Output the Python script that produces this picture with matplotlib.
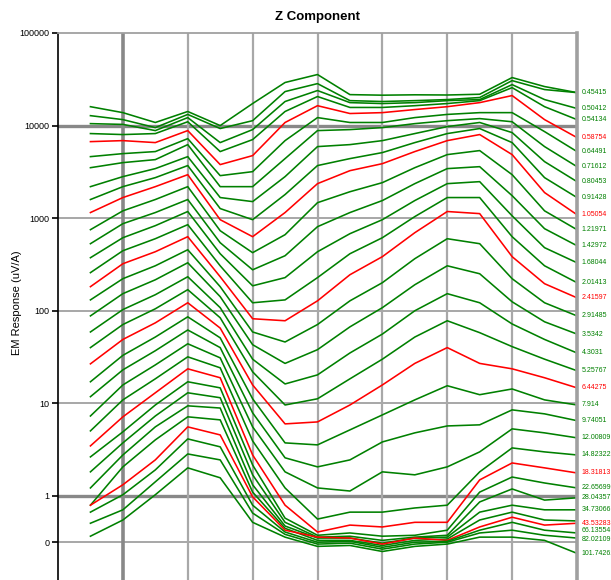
import numpy as np
import matplotlib
matplotlib.use("Agg")
import matplotlib.pyplot as plt

plt.rcParams['font.family'] = ['Liberation Sans', 'DejaVu Sans']

# station index along the profile
stations = list(range(16))

# EM response (uV/A) per time gate
ch_0_41 = [16000, 13800, 10800, 14200, 10000, 17300, 29200, 35600, 21600, 21300, 21500, 21400, 21800, 33000, 26400, 22700]
ch_0_45415 = [12800, 11600, 9510, 13200, 9290, 11300, 23300, 28400, 18600, 18200, 18600, 19100, 20100, 30600, 24500, 22700]
ch_0_50412 = [10500, 10300, 8830, 12200, 6550, 9050, 18200, 23900, 17700, 17300, 17700, 18600, 19100, 27700, 19100, 15300]
ch_0_54134 = [8200, 8000, 8200, 11000, 5240, 7060, 14200, 20600, 15700, 15700, 16400, 17300, 18600, 25700, 16000, 11600]
ch_0_58754 = [6710, 6880, 6550, 8830, 3790, 4740, 10800, 16400, 13500, 13800, 14900, 16000, 17700, 21100, 11600, 7420]
ch_0_64491 = [4620, 4980, 5240, 7230, 2880, 3180, 6880, 12200, 10800, 10800, 12200, 13200, 13800, 13800, 8610, 5240]
ch_0_71612 = [3510, 3980, 4290, 6230, 2190, 2190, 4400, 8830, 9050, 9510, 10500, 11300, 11900, 11000, 5930, 3600]
ch_0_80453 = [2190, 2810, 3430, 4620, 1670, 1510, 2810, 5930, 6230, 6880, 8200, 9750, 10800, 8400, 4080, 2480]
ch_0_91428 = [1590, 2190, 2740, 3700, 1270, 963, 1800, 3700, 4400, 5110, 6550, 8200, 9290, 6550, 2740, 1670]
ch_1_05054 = [1150, 1670, 2190, 2950, 963, 631, 1150, 2360, 3260, 3880, 5240, 6880, 8000, 4860, 1890, 1090]
ch_1_21971 = [751, 1200, 1590, 2190, 732, 424, 663, 1470, 1930, 2420, 3510, 4860, 5370, 2950, 1200, 751]
ch_1_42972 = [530, 872, 1150, 1590, 543, 277, 393, 809, 1150, 1550, 2360, 3430, 3600, 1750, 770, 504]
ch_1_68044 = [374, 615, 830, 1180, 413, 186, 228, 434, 680, 963, 1550, 2360, 2480, 1060, 480, 330]
ch_2_01413 = [258, 445, 600, 851, 306, 122, 131, 228, 413, 615, 1040, 1670, 1670, 631, 306, 201]
ch_2_41597 = [182, 322, 434, 631, 233, 82, 78, 128, 245, 384, 697, 1180, 1120, 384, 196, 138]
ch_2_91485 = [131, 222, 306, 456, 182, 59, 46, 71, 128, 201, 365, 600, 530, 222, 122, 88]
ch_3_5342 = [88, 153, 216, 330, 142, 43, 27, 38, 67, 108, 191, 306, 251, 125, 76, 56]
ch_4_3031 = [59, 103, 149, 233, 108, 30, 16.2, 20.3, 35, 56, 100, 153, 122, 72, 49, 35]
ch_5_25767 = [40, 71, 105, 169, 84, 21.9, 9.6, 11.2, 18.4, 30, 52, 78, 58, 41, 30, 22.5]
ch_6_44275 = [26.7, 49, 74, 122, 65, 15.8, 6.0, 6.3, 9.6, 15.8, 27, 40, 27, 23.6, 18.9, 14.7]
ch_7_914 = [17.1, 33, 52, 86, 51, 11.2, 3.74, 3.56, 5.17, 7.5, 10.9, 15.5, 12.4, 14.3, 10.9, 9.6]
ch_9_74051 = [11.8, 23, 37, 62, 40, 7.9, 2.58, 2.06, 2.45, 3.83, 4.8, 5.7, 5.86, 8.5, 7.7, 6.5]
ch_12_00809 = [7.3, 15.8, 26, 44, 31, 5.57, 1.82, 1.22, 1.13, 1.82, 1.69, 2.06, 2.99, 5.3, 4.8, 4.24]
ch_14_82322 = [5.04, 10.9, 18.4, 31.8, 24.2, 3.93, 1.22, 0.50, 0.65, 0.65, 0.74, 0.80, 1.82, 3.3, 2.99, 2.77]
ch_18_31813 = [3.47, 7.15, 13, 23.6, 18.9, 2.77, 0.80, 0.22, 0.37, 0.33, 0.43, 0.43, 1.49, 2.27, 2.01, 1.77]
ch_22_65699 = [2.64, 4.92, 9.6, 17.1, 14.7, 2.16, 0.52, 0.15, 0.20, 0.13, 0.15, 0.26, 1.10, 1.6, 1.38, 1.22]
ch_28_04357 = [1.82, 3.74, 7.3, 13, 11.5, 1.69, 0.43, 0.11, 0.13, 0.04, 0.11, 0.15, 0.87, 1.19, 0.91, 0.96]
ch_34_73066 = [1.22, 2.77, 5.57, 9.4, 8.9, 1.32, 0.35, 0.09, 0.09, -0.02, 0.09, 0.11, 0.65, 0.80, 0.70, 0.70]
ch_43 = [0.80, 2.06, 4.03, 7.15, 6.63, 1.10, 0.30, 0.04, 0.04, -0.07, 0.04, 0.07, 0.48, 0.65, 0.48, 0.46]
ch_53 = [0.80, 1.32, 2.45, 5.57, 4.56, 0.98, 0.26, 0.11, 0.09, -0.04, 0.09, 0.04, 0.33, 0.54, 0.37, 0.41]
ch_66_13554 = [0.65, 1.03, 1.91, 4.13, 3.39, 0.80, 0.22, 0.0, 0.02, -0.11, 0.0, 0.02, 0.26, 0.43, 0.26, 0.20]
ch_82_02109 = [0.41, 0.70, 1.42, 2.84, 2.45, 0.63, 0.17, -0.04, -0.02, -0.15, -0.04, 0.0, 0.20, 0.26, 0.15, 0.09]
ch_101_74261 = [0.13, 0.48, 1.03, 2.01, 1.57, 0.43, 0.11, -0.09, -0.07, -0.20, -0.09, -0.04, 0.11, 0.11, 0.04, -0.24]

series = [ch_0_41, ch_0_45415, ch_0_50412, ch_0_54134, ch_0_58754, ch_0_64491, ch_0_71612,
          ch_0_80453, ch_0_91428, ch_1_05054, ch_1_21971, ch_1_42972, ch_1_68044, ch_2_01413,
          ch_2_41597, ch_2_91485, ch_3_5342, ch_4_3031, ch_5_25767, ch_6_44275, ch_7_914,
          ch_9_74051, ch_12_00809, ch_14_82322, ch_18_31813, ch_22_65699, ch_28_04357,
          ch_34_73066, ch_43, ch_53, ch_66_13554, ch_82_02109, ch_101_74261]

channel_labels = [None, '0.45415', '0.50412', '0.54134', '0.58754', '0.64491', '0.71612',
                  '0.80453', '0.91428', '1.05054', '1.21971', '1.42972', '1.68044', '2.01413',
                  '2.41597', '2.91485', '3.5342', '4.3031', '5.25767', '6.44275', '7.914',
                  '9.74051', '12.00809', '14.82322', '18.31813', '22.65699', '28.04357',
                  '34.73066', None, '43.53283', '66.13554', '82.02109', '101.74261']

red_channels = [4, 9, 14, 19, 24, 29]

ytick_vals = [0, 1, 10, 100, 1000, 10000, 100000]
ytick_text = ['0', '1', '10', '100', '1000', '10000', '100000']

GREEN = '#008000'
RED = '#ff0000'

fig = plt.figure(figsize=(6.11, 5.80), dpi=100)
ax = fig.add_axes([58 / 611, 0.0, 519 / 611, 547 / 580])


def fwd(v):
    v = np.asarray(v, dtype=float)
    return np.where(v >= 1, np.log10(np.clip(v, 1, None)), 0.5 * (v - 1))


def inv(t):
    t = np.asarray(t, dtype=float)
    return np.where(t >= 0, np.power(10.0, np.clip(t, 0, 300)), 1 + 2 * t)


ax.set_yscale('function', functions=(fwd, inv))
ax.set_xlim(-1, 15)
ax.set_ylim(-0.816, 100000)

# grid
for yv in [0, 10, 100, 1000]:
    ax.axhline(yv, color='#a0a0a0', lw=1.3, zorder=0.5)
for yv in [1, 10000]:
    ax.axhline(yv, color='#888888', lw=2.4, zorder=0.5)
for xv in [3, 5, 7, 9, 11, 13]:
    ax.axvline(xv, color='#a8a8a8', lw=1.6, zorder=0.5)
ax.axvline(1, color='#888888', lw=2.6, zorder=0.5)

# small vertical nudges (points) so the crowded end labels stay readable
label_nudge = {30: 1.8, 31: -1.2}

for i, vals in enumerate(series):
    col = RED if i in red_channels else GREEN
    ax.plot(stations, vals, color=col, lw=1.15, zorder=2, solid_joinstyle='round')
    lbl = channel_labels[i]
    if lbl is not None:
        ax.annotate(lbl, xy=(stations[-1], vals[-1]),
                    xytext=(3.5, label_nudge.get(i, 0)),
                    textcoords='offset points', va='center', ha='left',
                    fontsize=5, color=col, annotation_clip=False)

ax.set_yticks(ytick_vals)
ax.set_yticklabels(ytick_text)
ax.yaxis.set_minor_locator(matplotlib.ticker.NullLocator())
ax.set_xticks([])
ax.tick_params(axis='y', direction='out', length=4, width=1.2, labelsize=6.5, pad=2)

ax.spines['left'].set_color('black')
ax.spines['left'].set_linewidth(1.2)
ax.spines['top'].set_color('#a0a0a0')
ax.spines['top'].set_linewidth(1.3)
ax.spines['right'].set_color('#a0a0a0')
ax.spines['right'].set_linewidth(2.6)
ax.spines['bottom'].set_visible(False)

fig.text(317.5 / 611, 1 - 17 / 580, 'Z Component', ha='center', va='center',
         fontsize=9.5, fontweight='bold')
fig.text(17 / 611, 1 - 303 / 580, 'EM Response (uV/A)', rotation=90,
         ha='center', va='center', fontsize=8)

fig.savefig('out.png', dpi=100)
